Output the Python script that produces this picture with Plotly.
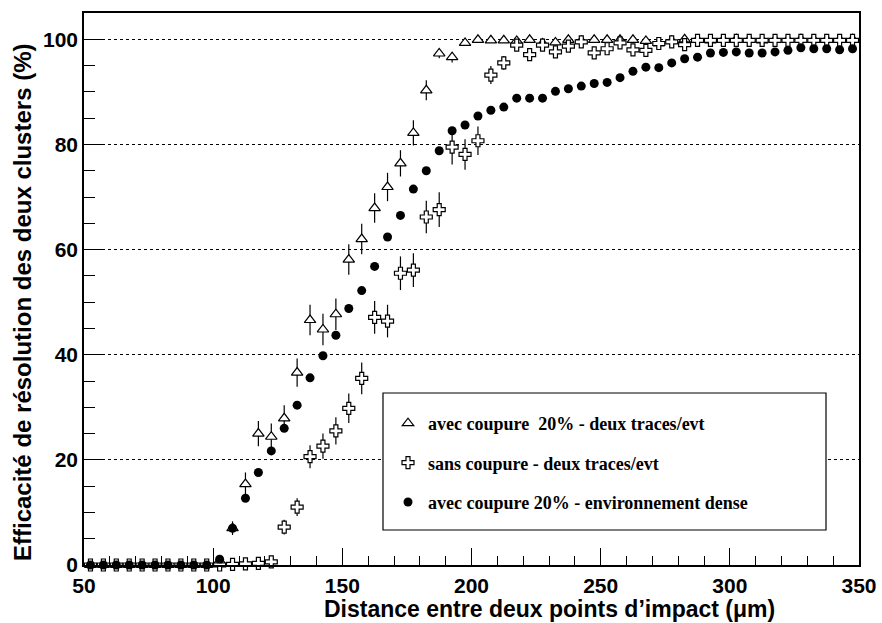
import plotly.graph_objects as go

distance = [52.5 + 5 * i for i in range(60)]

tri_vals = [0, 0, 0, 0, 0, 0, 0, 0, 0, 0,
            0.8, 7.0, 15.4, 25.0, 24.4, 27.9, 36.6, 46.6, 44.8, 47.7,
            58.1, 62.0, 67.9, 71.9, 76.4, 82.2, 90.3, 97.3, 96.6, 99.3,
            99.9, 99.8, 99.8, 99.7, 99.9, 99.2, 99.4, 99.9, 99.7, 99.9,
            99.9, 99.9, 99.9, 99.7, 99.2, 99.7,
            100, 99.9, 99.8, 99.9, 100, 99.9, 99.8, 99.9, 99.9, 100, 99.9, 99.9, 99.9, 100]
tri_err = [0, 0, 0, 0, 0, 0, 0, 0, 0, 0,
           0.5, 1.3, 2.2, 2.4, 2.5, 2.5, 2.7, 2.9, 3.0, 3.0,
           2.9, 2.9, 2.8, 2.7, 2.5, 2.4, 1.9, 0.9, 1.0, 0.5,
           0.2, 0.2, 0.2, 0.2, 0.2, 0.2, 0.2, 0.2, 0.2, 0.2,
           0.2, 0.2, 0.2, 0.2, 0.2, 0.2,
           0.1, 0.1, 0.1, 0.1, 0.1, 0.1, 0.1, 0.1, 0.1, 0.1, 0.1, 0.1, 0.1, 0.1]

crs_vals = [0, 0, 0, 0, 0, 0, 0, 0, 0, 0, 0,
            0.1, 0.2, 0.3, 0.6, 7.2, 11.0, 20.6, 22.6, 25.5, 29.8,
            35.5, 47.1, 46.4, 55.5, 56.1, 66.2, 67.6, 79.5, 78.1, 80.7,
            93.2, 95.5, 98.9, 97.1, 98.9, 97.6, 98.7, 99.5, 97.4, 98.2,
            99.3, 98.0, 97.9, 99.2, 99.5, 99.0,
            99.8, 99.8, 99.8, 99.8, 99.8, 99.8, 99.8, 99.8, 99.8, 99.8, 99.8, 99.8, 99.8]
crs_err = [0, 0, 0, 0, 0, 0, 0, 0, 0, 0, 0,
           0.3, 0.3, 0.4, 0.6, 1.4, 1.7, 2.2, 2.4, 2.6, 2.8,
           3.0, 3.1, 3.1, 3.2, 3.2, 3.1, 3.3, 3.3, 2.9, 2.7,
           1.7, 1.3, 0.6, 0.6, 0.5, 0.5, 0.5, 0.5, 0.5, 0.5,
           0.4, 0.4, 0.4, 0.4, 0.4, 0.4,
           0.3, 0.3, 0.3, 0.3, 0.3, 0.3, 0.3, 0.3, 0.3, 0.3, 0.3, 0.3, 0.3]

cir_vals = [0, 0, 0, 0, 0, 0, 0, 0, 0, 0,
            1.1, 7.0, 12.7, 17.6, 21.7, 26.0, 30.4, 35.6, 39.8, 43.7,
            48.8, 52.2, 56.8, 62.4, 66.5, 71.5, 75.0, 78.8, 82.6, 83.7,
            85.4, 86.5, 87.1, 88.8, 88.8, 88.8, 90.1, 90.6, 91.1, 91.6,
            91.8, 92.7, 93.9, 94.7, 94.6, 95.5, 96.3, 96.6, 97.4, 97.5,
            97.6, 97.4, 97.4, 97.6, 97.9, 98.4, 98.2, 98.2, 98.0, 98.2]

legend_names = ["avec coupure  20% - deux traces/evt",
                "sans coupure - deux traces/evt",
                "avec coupure 20% - environnement dense"]

x_title = "Distance entre deux points d\u2019impact (\u03bcm)"
y_title = "Efficacit\u00e9 de r\u00e9solution des deux clusters (%)"

fig = go.Figure()
fig.add_trace(go.Scatter(
    x=distance, y=tri_vals, mode="markers", name=legend_names[0], legendgroup="a",
    cliponaxis=False,
    marker=dict(symbol="triangle-up", size=10, color="white", line=dict(color="black", width=1.2)),
    error_y=dict(type="data", array=tri_err, color="black", thickness=1.2, width=0)))
fig.add_trace(go.Scatter(
    x=distance, y=crs_vals, mode="markers", name=legend_names[1], legendgroup="b",
    cliponaxis=False,
    marker=dict(symbol="cross", size=10, color="white", line=dict(color="black", width=1.2)),
    error_y=dict(type="data", array=crs_err, color="black", thickness=1.2, width=0)))
fig.add_trace(go.Scatter(
    x=distance, y=cir_vals, mode="markers", name=legend_names[2], legendgroup="c",
    cliponaxis=False,
    marker=dict(symbol="circle", size=9, color="black")))

W, H = 882, 623
L, R, T, B = 84, 23, 13, 58
pw, ph = W - L - R, H - T - B

def px_x(p):
    return (p - L) / pw

def px_y(p):
    return (H - B - p) / ph

fig.add_shape(type="rect", xref="paper", yref="paper",
              x0=px_x(383), x1=px_x(826), y0=px_y(530), y1=px_y(393),
              line=dict(color="black", width=1.2), fillcolor="white", layer="above")

fig.add_annotation(text=x_title, xref="paper", yref="paper", x=px_x(549), y=px_y(609),
                   showarrow=False, xanchor="center", yanchor="middle",
                   font=dict(family="Liberation Sans", size=23, color="black", weight="bold"))
fig.add_annotation(text=y_title, xref="paper", yref="paper", x=px_x(22), y=px_y(303),
                   showarrow=False, xanchor="center", yanchor="middle", textangle=-90,
                   font=dict(family="Liberation Sans", size=24, color="black", weight="bold"))

axis_common = dict(showline=True, linecolor="black", linewidth=1.5, mirror=True,
                   ticks="inside", tickcolor="black", tickwidth=1.2, automargin=False,
                   tickfont=dict(family="Liberation Sans", size=21, color="black", weight="bold"),
                   zeroline=False)

fig.update_xaxes(range=[50, 350], tickmode="linear", tick0=50, dtick=50, ticklen=17,
                 showgrid=False, ticklabelstandoff=1,
                 minor=dict(ticks="inside", dtick=10, tick0=50, ticklen=9, tickcolor="black", tickwidth=1.2),
                 **axis_common)
fig.update_yaxes(range=[0, 105], tickmode="linear", tick0=0, dtick=20, ticklen=20,
                 showgrid=True, gridcolor="black", griddash="dot", gridwidth=1,
                 minor=dict(ticks="inside", dtick=5, tick0=0, ticklen=11, tickcolor="black", tickwidth=1.2,
                            showgrid=False),
                 **axis_common)

fig.update_layout(
    width=W, height=H, margin=dict(l=L, r=R, t=T, b=B),
    paper_bgcolor="white", plot_bgcolor="white",
    showlegend=True,
    legend=dict(x=px_x(388), y=px_y(405), xanchor="left", yanchor="top",
                bgcolor="rgba(0,0,0,0)", borderwidth=0, tracegroupgap=13,
                font=dict(family="Liberation Serif", size=18, color="black", weight="bold"),
                itemwidth=30),
)

fig.write_html("out.html", config={"displayModeBar": False},
               post_script="document.body.style.margin='0px';")
